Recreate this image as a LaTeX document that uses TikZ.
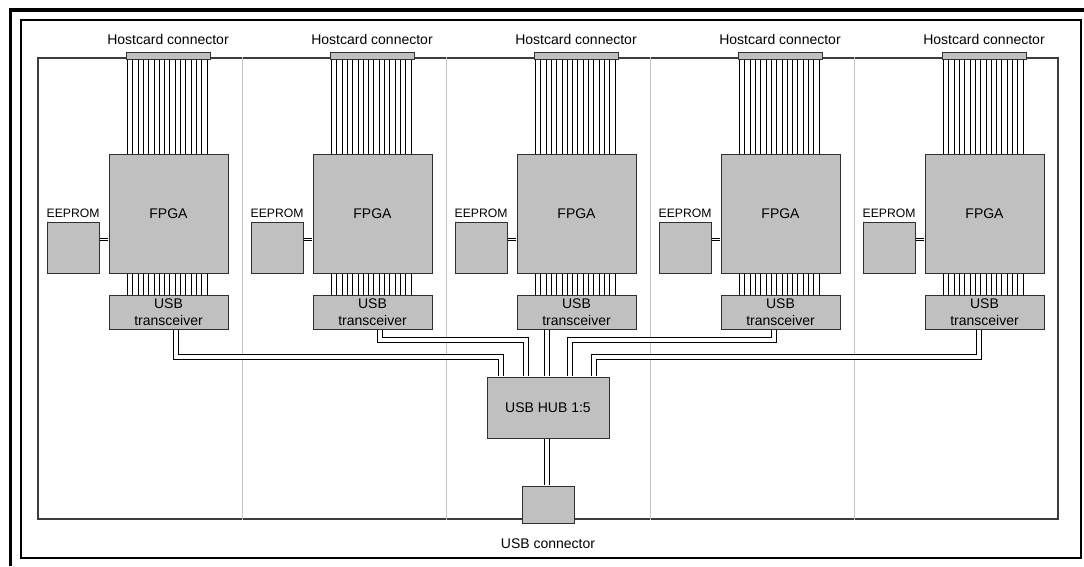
\documentclass[tikz,border=0pt]{standalone}
\usepackage{fontspec}
\setmainfont{Liberation Sans}
\usepackage{xcolor}
\usetikzlibrary{positioning}
\definecolor{chipgray}{RGB}{192,192,192}
\definecolor{edgegray}{RGB}{48,48,48}
\definecolor{boardgray}{RGB}{60,60,60}
\definecolor{splitgray}{RGB}{195,195,195}

\begin{document}
\begin{tikzpicture}[
  x=1pt, y=-1pt,
  font=\fontsize{14}{17}\selectfont,
  chip/.style={draw=edgegray, fill=chipgray, line width=1pt, align=center, inner sep=0pt},
  txt/.style={inner sep=0pt},
  wire/.style={line width=0.9pt},
  usbline/.style={draw=black, line width=1pt, double=white, double distance=4pt, shorten <=0.5pt, shorten >=0.5pt},
  romline/.style={draw=black, line width=0.8pt, double=white, double distance=1.8pt, shorten <=0.5pt, shorten >=0.5pt},
  board/.style={draw=boardgray, line width=1.2pt, inner sep=0pt},
  split/.style={draw=splitgray, line width=1pt}
]
  \useasboundingbox (0,0) rectangle (1084,566);

  % frames
  \draw[line width=3.5pt] (10.5,566) -- (10.5,10) -- (1084,10);
  \draw[line width=2pt] (21,20) rectangle (1080.5,558);

  % board and its five slots
  \node[board, minimum width=1020pt, minimum height=461pt] (board) at (548,288.5) {};
  \foreach \sx in {242,446,650,854}
    \draw[split] (\sx,0 |- board.north) -- (\sx,0 |- board.south);

  \foreach \i in {0,...,4} {
    \pgfmathsetmacro\dx{204*\i}
    \node[chip, minimum width=84pt, minimum height=7pt] (conn\i) at ({168+\dx},55.5) {};
    \node[txt, above=7pt of conn\i] (hostlbl\i) {Hostcard connector};
    \node[chip, minimum width=119pt, minimum height=119pt] (fpga\i) at ({168.5+\dx},213.5) {FPGA};
    \node[chip, minimum width=52pt, minimum height=51pt] (eeprom\i) at ({73+\dx},247.5) {};
    \node[txt, font=\fontsize{12.2}{14}\selectfont, above right=4pt and 0pt of eeprom\i.north west] (romlbl\i) {EEPROM};
    \node[chip, minimum width=119pt, minimum height=34pt] (xcvr\i) at ({168.5+\dx},312) {USB\\transceiver};
    \draw[romline] ([yshift=8pt]eeprom\i.east) -- ([yshift=8pt]eeprom\i.east -| fpga\i.west);
    \foreach \k in {0,...,15} {
      \pgfmathsetmacro\wx{127.3+5.33*\k+\dx}
      \draw[wire] (\wx,0 |- conn\i.south) -- (\wx,0 |- fpga\i.north);
      \draw[wire] (\wx,0 |- fpga\i.south) -- (\wx,0 |- xcvr\i.north);
    }
  }

  % hub and host side
  \node[chip, minimum width=122pt, minimum height=61pt] (hub) at (548,407.5) {USB HUB 1:5};
  \node[chip, minimum width=52pt, minimum height=37pt] (usbconn) at (548,504.5) {};
  \node[txt, below=15pt of usbconn] (usblbl) {USB connector};

  \draw[usbline] (175.5,0 |- xcvr0.south) |- (501,356.5) -- (501,0 |- hub.north);
  \draw[usbline] (379.5,0 |- xcvr1.south) |- (526,340) -- (526,0 |- hub.north);
  \draw[usbline] (546.5,0 |- xcvr2.south) -- (546.5,0 |- hub.north);
  \draw[usbline] (773.5,0 |- xcvr3.south) |- (569.5,340) -- (569.5,0 |- hub.north);
  \draw[usbline] (978.5,0 |- xcvr4.south) |- (593.5,356.5) -- (593.5,0 |- hub.north);
  \draw[usbline] (546.5,0 |- hub.south) -- (546.5,0 |- usbconn.north);
\end{tikzpicture}
\end{document}
